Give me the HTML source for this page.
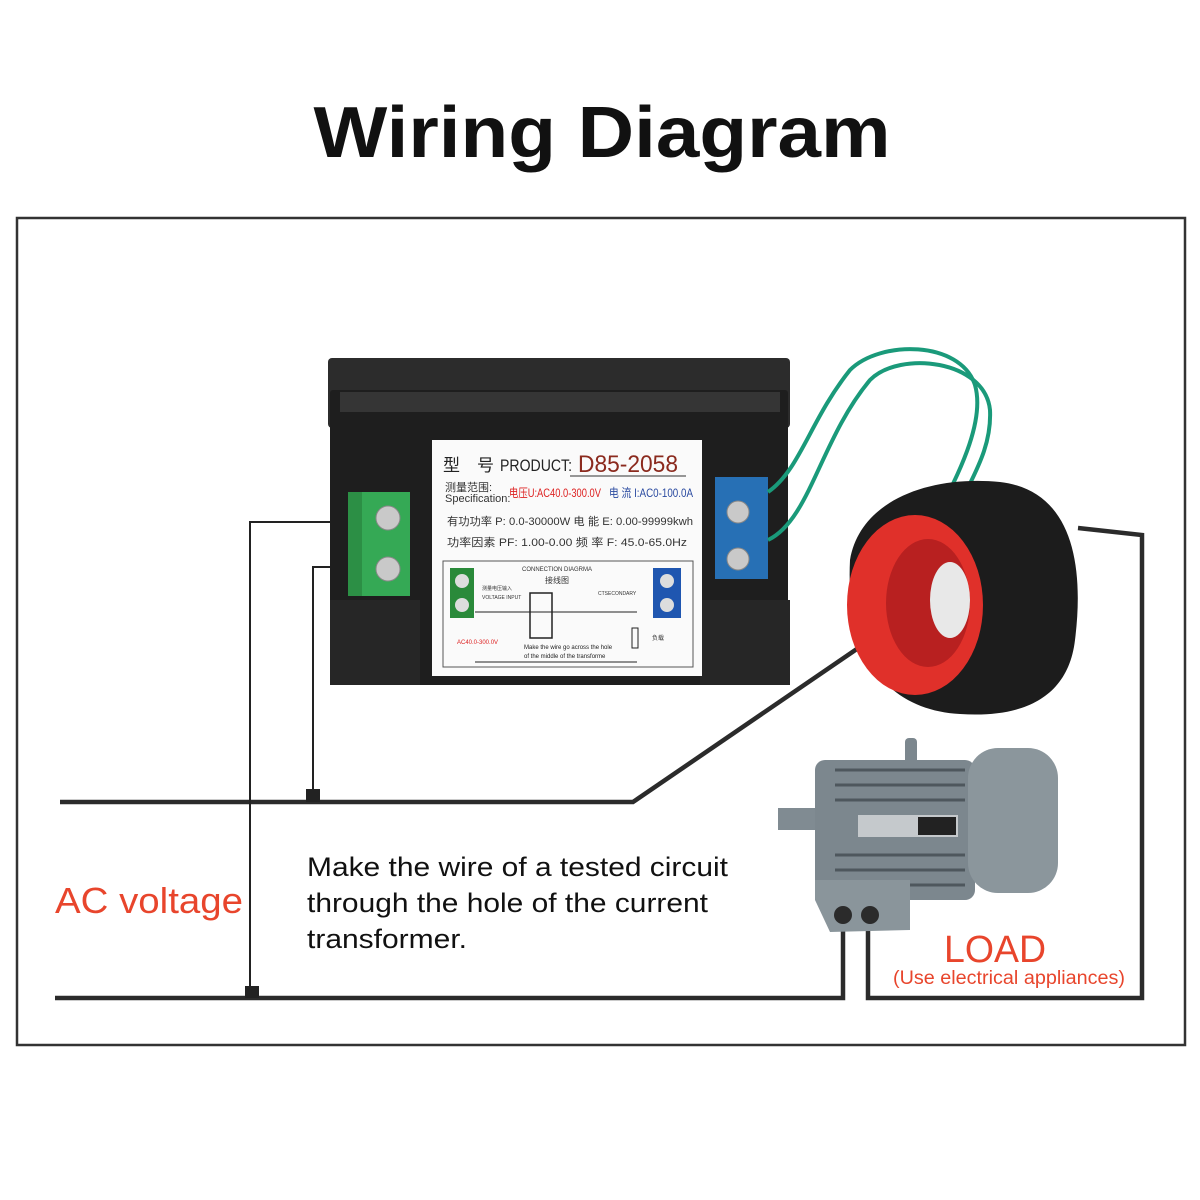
<!DOCTYPE html>
<html><head><meta charset="utf-8"><style>
html,body{margin:0;padding:0;background:#fff}
svg{display:block}
text{font-family:"Liberation Sans","Noto Sans CJK SC",sans-serif}
</style></head><body>
<svg width="1200" height="1200" viewBox="0 0 1200 1200" xmlns="http://www.w3.org/2000/svg">
<rect width="1200" height="1200" fill="#fff"/>
<text x="602" y="157" text-anchor="middle" font-size="72" font-weight="bold" fill="#111" textLength="577" lengthAdjust="spacingAndGlyphs">Wiring Diagram</text>
<rect x="17" y="218" width="1168" height="827" fill="none" stroke="#333" stroke-width="2.5"/>

<g stroke="#2b2b2b" stroke-width="4.5" fill="none" stroke-linejoin="miter">
<polyline points="60,802 633,802 870,640"/>
<polyline points="55,998 843,998 843,915"/>
<polyline points="1078,528 1142,535 1142,998 868,998 868,915"/>
</g>
<g stroke="#222" stroke-width="2" fill="none">
<polyline points="372,522 250,522 250,998"/>
<polyline points="372,567 313,567 313,802"/>
</g>
<rect x="245" y="986" width="14" height="12" fill="#222"/>
<rect x="306" y="789" width="14" height="13" fill="#222"/>

<rect x="328" y="358" width="462" height="70" rx="4" fill="#2c2c2c"/>
<rect x="330" y="390" width="458" height="295" rx="3" fill="#1e1e1e"/>
<rect x="340" y="392" width="440" height="20" fill="#353535"/>
<rect x="330" y="600" width="90" height="85" fill="#262626"/>
<rect x="700" y="600" width="90" height="85" fill="#262626"/>
<rect x="432" y="440" width="270" height="236" fill="#fafafa"/>
<text x="443" y="471" font-size="17" fill="#222">型　号</text>
<text x="500" y="471" font-size="17" fill="#222" textLength="72" lengthAdjust="spacingAndGlyphs">PRODUCT:</text>
<text x="578" y="472" font-size="24" fill="#8b2a1e" textLength="100" lengthAdjust="spacingAndGlyphs">D85-2058</text>
<line x1="570" y1="476" x2="686" y2="476" stroke="#333"/>
<text x="445" y="491" font-size="11" fill="#333">测量范围:</text>
<text x="445" y="502" font-size="11" fill="#333">Specification:</text>
<text x="509" y="497" font-size="12" fill="#d22" textLength="92" lengthAdjust="spacingAndGlyphs">电压U:AC40.0-300.0V</text>
<text x="609" y="497" font-size="12" fill="#2a4aa0" textLength="84" lengthAdjust="spacingAndGlyphs">电 流 I:AC0-100.0A</text>
<text x="447" y="525" font-size="11" fill="#333" textLength="246" lengthAdjust="spacingAndGlyphs">有功功率 P: 0.0-30000W 电 能 E: 0.00-99999kwh</text>
<text x="447" y="546" font-size="11" fill="#333" textLength="240" lengthAdjust="spacingAndGlyphs">功率因素 PF: 1.00-0.00  频 率 F: 45.0-65.0Hz</text>
<rect x="443" y="561" width="250" height="106" fill="none" stroke="#555"/>
<rect x="450" y="568" width="24" height="50" fill="#2a8a3a"/>
<circle cx="462" cy="581" r="7" fill="#ddd"/><circle cx="462" cy="605" r="7" fill="#ddd"/>
<rect x="653" y="568" width="28" height="50" fill="#1f56b0"/>
<circle cx="667" cy="581" r="7" fill="#ddd"/><circle cx="667" cy="605" r="7" fill="#ddd"/>
<text x="522" y="571" font-size="6" fill="#333">CONNECTION DIAGRMA</text>
<text x="545" y="583" font-size="8" fill="#333">接线图</text>
<text x="482" y="590" font-size="5" fill="#333">测量电压输入</text>
<text x="482" y="599" font-size="5" fill="#333">VOLTAGE INPUT</text>
<text x="598" y="595" font-size="5" fill="#333">CTSECONDARY</text>
<rect x="530" y="593" width="22" height="45" fill="none" stroke="#222" stroke-width="1.5"/>
<text x="457" y="644" font-size="6" fill="#d22">AC40.0-300.0V</text>
<text x="524" y="649" font-size="6" fill="#222">Make the wire go across the hole</text>
<text x="524" y="658" font-size="6" fill="#222">of the middle of the transforme</text>
<text x="652" y="640" font-size="6" fill="#333">负载</text>
<rect x="632" y="628" width="6" height="20" fill="none" stroke="#222"/>
<line x1="475" y1="662" x2="637" y2="662" stroke="#222"/>
<line x1="475" y1="612" x2="637" y2="612" stroke="#222"/>
<rect x="348" y="492" width="62" height="104" fill="#35a955"/>
<rect x="348" y="492" width="14" height="104" fill="#2c8f45"/>
<circle cx="388" cy="518" r="12" fill="#c9c9c9" stroke="#888"/>
<circle cx="388" cy="569" r="12" fill="#c9c9c9" stroke="#888"/>
<rect x="715" y="477" width="53" height="102" fill="#2770b5"/>
<circle cx="738" cy="512" r="11" fill="#c9c9c9" stroke="#888"/>
<circle cx="738" cy="559" r="11" fill="#c9c9c9" stroke="#888"/>
<g stroke="#1a9a7a" stroke-width="4" fill="none">
<path d="M768,492 C800,470 810,420 850,370 C880,340 960,340 975,385 C985,420 960,470 945,500"/>
<path d="M768,540 C810,520 820,440 870,380 C900,350 985,360 990,410 C992,450 970,480 960,505"/>
</g>
<path d="M850,560 C860,500 930,475 1000,482 C1070,490 1085,560 1075,640 C1068,700 1020,718 960,714 C890,710 845,660 850,560 Z" fill="#1c1c1c"/>
<ellipse cx="915" cy="605" rx="68" ry="90" fill="#e0302a"/>
<ellipse cx="928" cy="603" rx="42" ry="64" fill="#b82020"/>
<ellipse cx="950" cy="600" rx="20" ry="38" fill="#e8e8e8"/>
<rect x="778" y="808" width="40" height="22" fill="#808b92"/>
<rect x="815" y="760" width="160" height="140" rx="10" fill="#7c878e"/>
<g stroke="#4e575d" stroke-width="3">
<line x1="835" y1="770" x2="965" y2="770"/><line x1="835" y1="785" x2="965" y2="785"/>
<line x1="835" y1="800" x2="965" y2="800"/><line x1="835" y1="855" x2="965" y2="855"/>
<line x1="835" y1="870" x2="965" y2="870"/><line x1="835" y1="885" x2="965" y2="885"/>
</g>
<rect x="905" y="738" width="12" height="30" rx="4" fill="#7c878e"/>
<rect x="858" y="815" width="100" height="22" fill="#c5c9cc"/>
<rect x="918" y="817" width="38" height="18" fill="#222"/>
<rect x="968" y="748" width="90" height="145" rx="30" fill="#8b969c"/>
<path d="M815,880 L910,880 L910,930 L830,932 L815,900 Z" fill="#8a959b"/>
<circle cx="843" cy="915" r="9" fill="#2b2b2b"/>
<circle cx="870" cy="915" r="9" fill="#2b2b2b"/>
<text x="55" y="913" font-size="36" fill="#e8452c" textLength="188" lengthAdjust="spacingAndGlyphs">AC voltage</text>
<text x="307" y="876" font-size="27" fill="#111" textLength="421" lengthAdjust="spacingAndGlyphs">Make the wire of a tested circuit</text>
<text x="307" y="912" font-size="27" fill="#111" textLength="401" lengthAdjust="spacingAndGlyphs">through the hole of the current</text>
<text x="307" y="948" font-size="27" fill="#111" textLength="160" lengthAdjust="spacingAndGlyphs">transformer.</text>
<text x="944" y="962" font-size="38" fill="#e8452c" textLength="102" lengthAdjust="spacingAndGlyphs">LOAD</text>
<text x="893" y="984" font-size="19" fill="#e8452c" textLength="232" lengthAdjust="spacingAndGlyphs">(Use electrical appliances)</text>
</svg>
</body></html>
